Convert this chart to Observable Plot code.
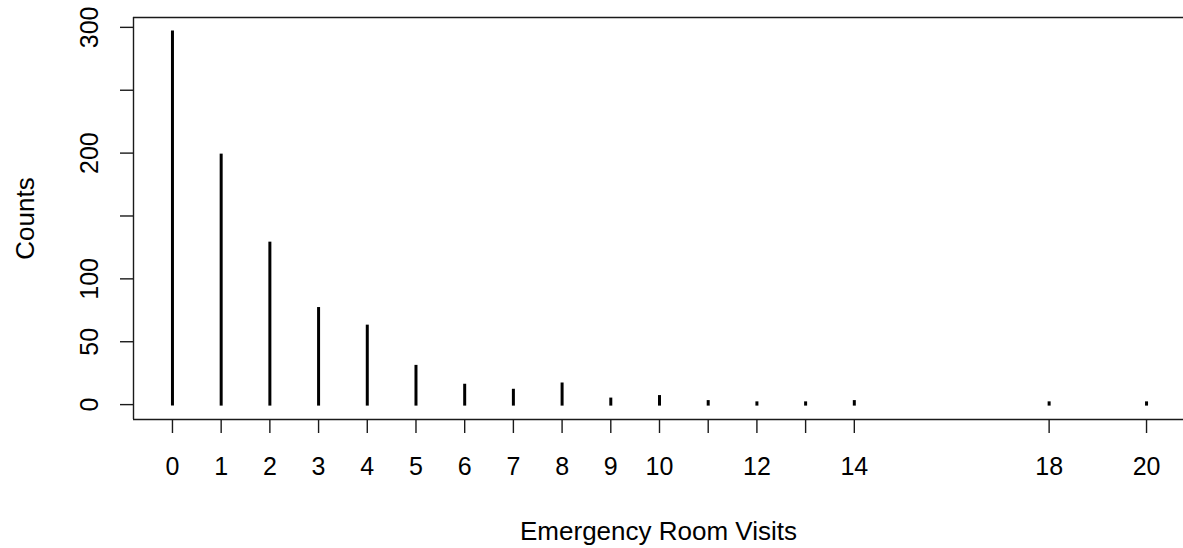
<!DOCTYPE html>
<html>
<head>
<meta charset="utf-8">
<script src="https://cdn.jsdelivr.net/npm/d3@7"></script>
<script src="https://cdn.jsdelivr.net/npm/@observablehq/plot@0.6"></script>
<style>
  html, body { margin: 0; padding: 0; background: #fff; overflow: hidden; }
  #chart svg { display: block; }
</style>
</head>
<body>
<div id="chart"></div>
<script>
// Data
const visits = [0, 1, 2, 3, 4, 5, 6, 7, 8, 9, 10, 11, 12, 13, 14, 18, 20];
const counts = [296, 198, 128, 76, 62, 30, 15, 11, 16, 4, 6, 2, 1, 1, 2, 1, 1];
const xTickValues = [0, 1, 2, 3, 4, 5, 6, 7, 8, 9, 10, 11, 12, 13, 14, 18, 20];
const xTickLabelsHidden = [11, 13];
const yTickValues = [0, 50, 100, 150, 200, 250, 300];
const yTickLabelValues = [0, 50, 100, 200, 300];
const xLabel = "Emergency Room Visits";
const yLabel = "Counts";

const data = visits.map((v, i) => ({visits: v, count: counts[i]}));

const xmin = d3.min(visits), xmax = d3.max(visits);
const xpad = 0.04 * (xmax - xmin);
const ymax = d3.max(counts);
const ypad = 0.04 * ymax;
const xDomain = [xmin - xpad, xmax + xpad];
const yDomain = [-ypad, ymax + ypad];

const font = "'Liberation Sans', Arial, sans-serif";
const ink = "#1a1a1a";

const chart = Plot.plot({
  width: 1183,
  height: 548,
  marginLeft: 133,
  marginRight: 0,
  marginTop: 17,
  marginBottom: 129,
  style: {fontFamily: font, fontSize: "25px", color: "#000", background: "#fff"},
  x: {domain: xDomain, range: [133, 1185]},
  y: {domain: yDomain, range: [419, 17]},
  marks: [
    // box
    Plot.ruleY(yDomain, {stroke: ink, strokeWidth: 1.4}),
    Plot.ruleX(xDomain, {stroke: ink, strokeWidth: 1.4}),
    // axes
    Plot.axisX(xTickValues, {
      tickSize: 14, tickPadding: 24, fontSize: 25, stroke: ink, strokeWidth: 1.4,
      tickFormat: d => xTickLabelsHidden.includes(d) ? "" : String(d),
      label: null, fill: "#000"
    }),
    Plot.axisY(yTickValues, {
      tickSize: 13, stroke: ink, strokeWidth: 1.4,
      tickFormat: () => "", label: null
    }),
    Plot.text(yTickLabelValues, {
      y: d => d, text: d => String(d), frameAnchor: "left", dx: -36,
      rotate: -90, textAnchor: "middle", lineAnchor: "bottom", fontSize: 25, fill: "#000"
    }),
    Plot.text([yLabel], {
      text: d => d, frameAnchor: "left", dx: -100, rotate: -90,
      textAnchor: "middle", lineAnchor: "bottom", fontSize: 26, fill: "#000"
    }),
    Plot.text([xLabel], {
      text: d => d, frameAnchor: "bottom", dy: 120,
      textAnchor: "middle", lineAnchor: "bottom", fontSize: 26, fill: "#000"
    }),
    // counts as vertical lines (type "h")
    Plot.ruleX(data, {x: "visits", y1: 0, y2: "count", stroke: "#000", strokeWidth: 3, strokeLinecap: "square"})
  ]
});
document.getElementById("chart").appendChild(chart);
</script>
</body>
</html>
